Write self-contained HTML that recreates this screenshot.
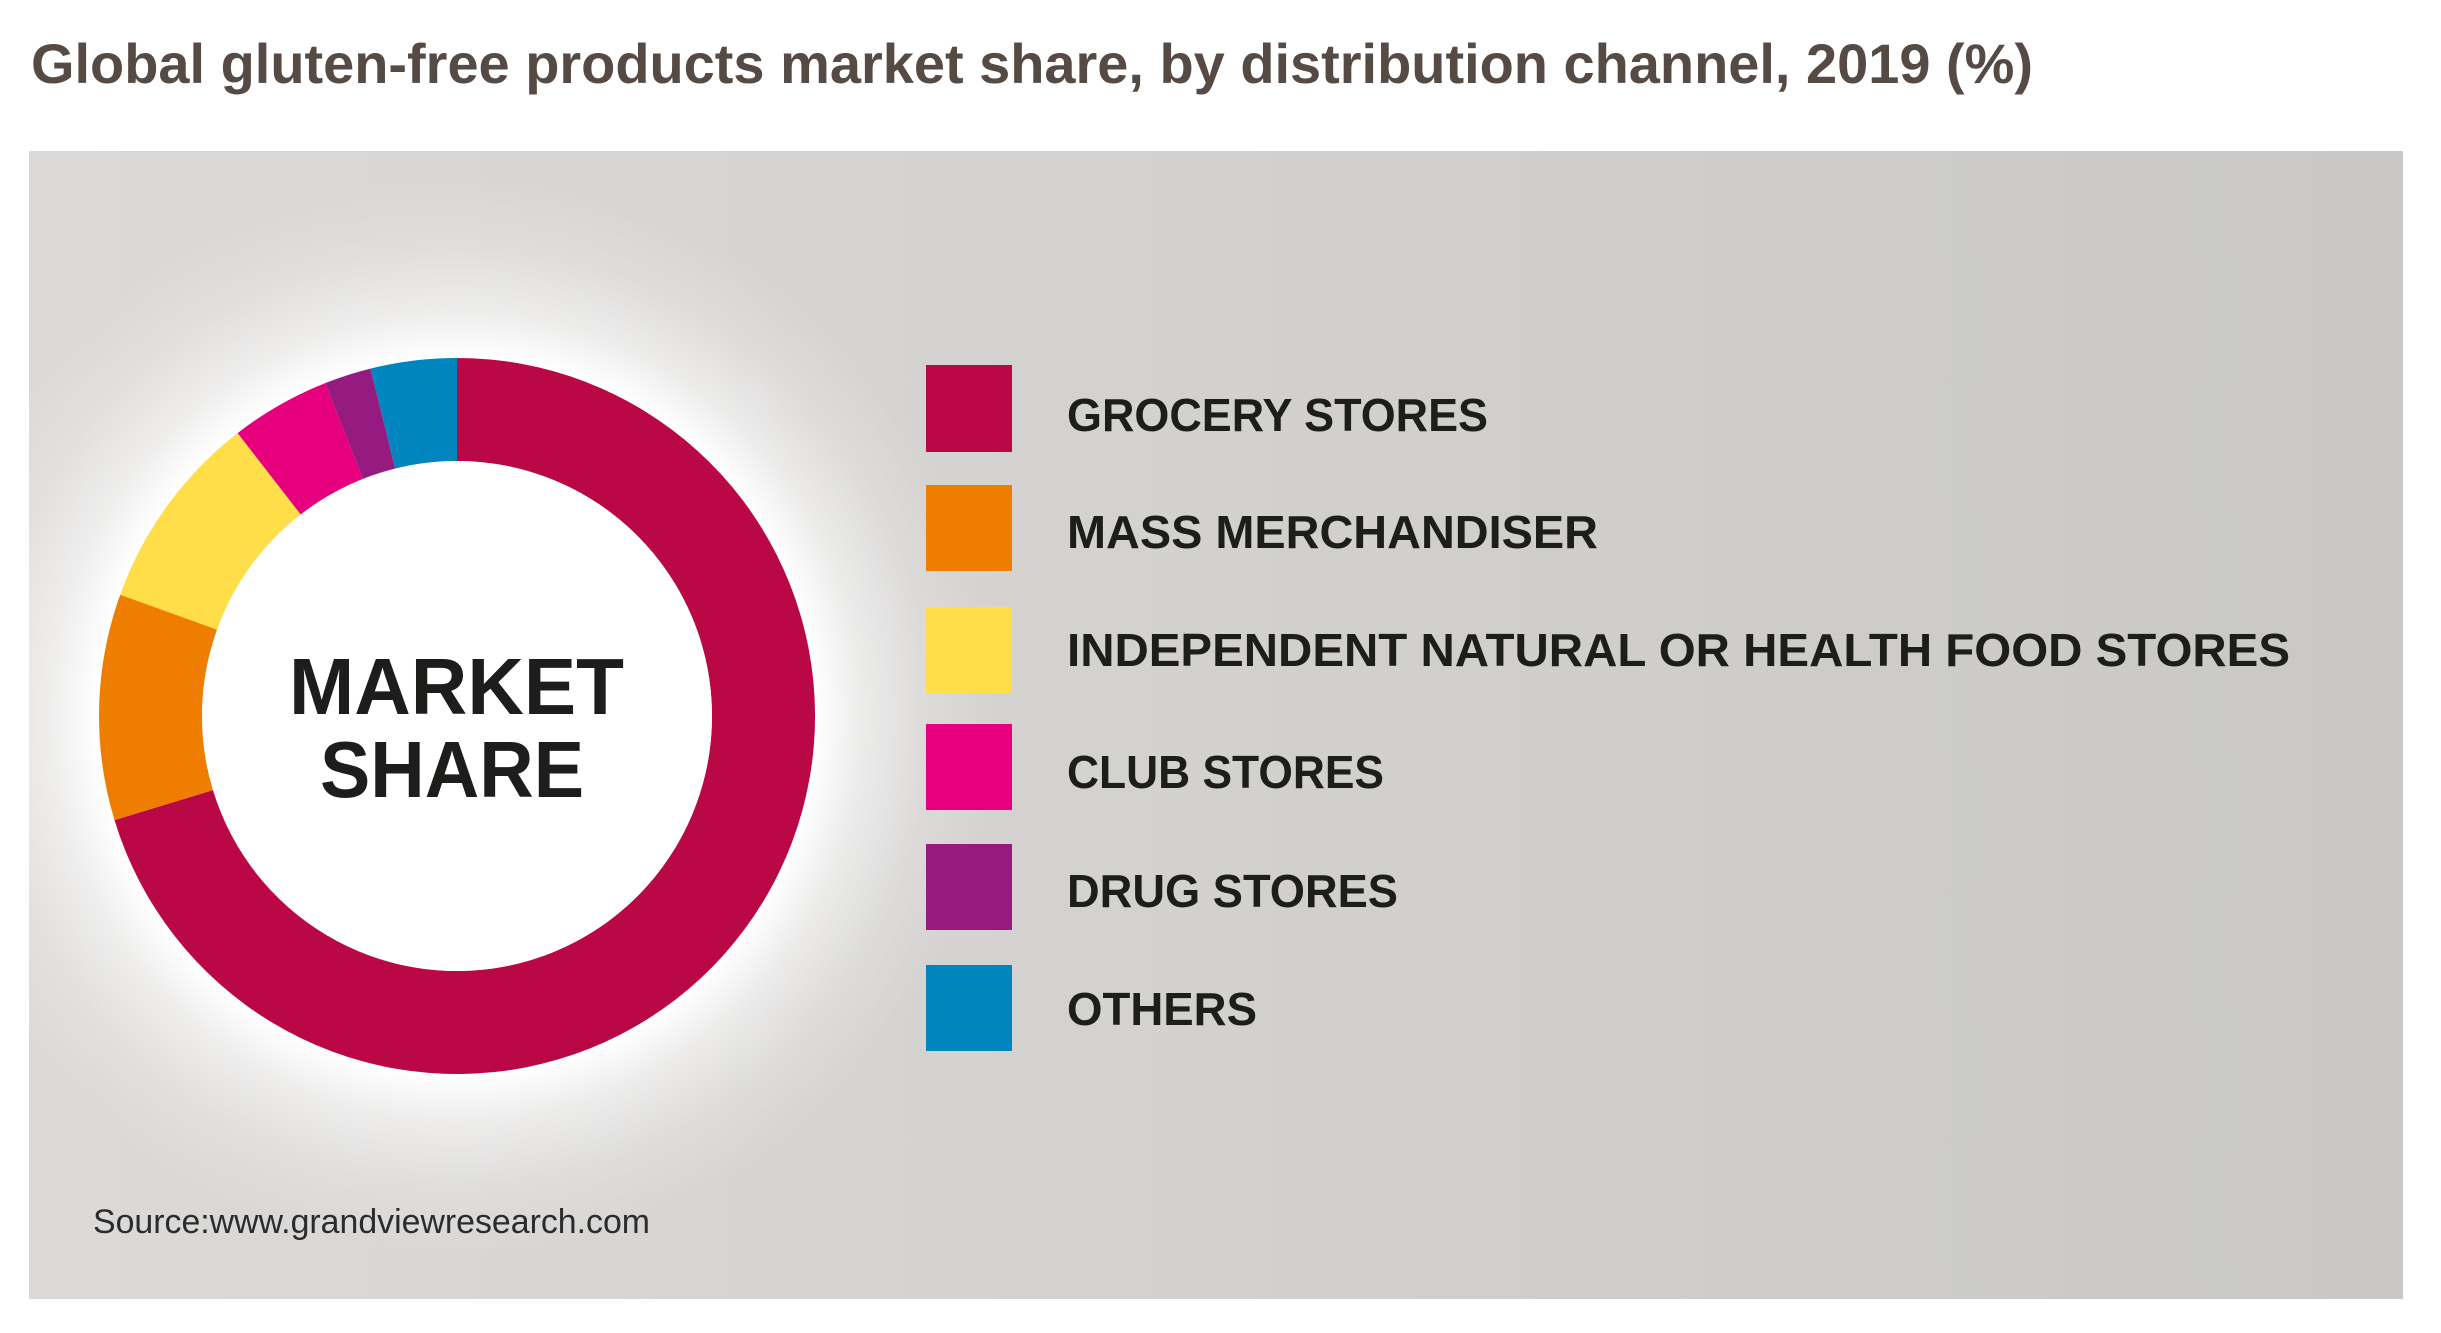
<!DOCTYPE html>
<html>
<head>
<meta charset="utf-8">
<style>
  html, body { margin: 0; padding: 0; background: #ffffff; }
  body { width: 2441px; height: 1333px; overflow: hidden; }
  svg { display: block; }
  text { font-family: "Liberation Sans", Arial, sans-serif; }
</style>
</head>
<body>
<svg width="2441" height="1333" viewBox="0 0 2441 1333" xmlns="http://www.w3.org/2000/svg">
  <defs>
    <linearGradient id="panelGrad" x1="0" y1="0" x2="1" y2="0">
      <stop offset="0" stop-color="#dcdad8"/>
      <stop offset="1" stop-color="#c9c8c6"/>
    </linearGradient>
    <radialGradient id="glow" cx="457" cy="716" r="540" gradientUnits="userSpaceOnUse">
      <stop offset="0" stop-color="#ffffff" stop-opacity="1"/>
      <stop offset="0.665" stop-color="#ffffff" stop-opacity="1"/>
      <stop offset="0.75" stop-color="#ffffff" stop-opacity="0.55"/>
      <stop offset="0.87" stop-color="#ffffff" stop-opacity="0.18"/>
      <stop offset="1" stop-color="#ffffff" stop-opacity="0"/>
    </radialGradient>
    <clipPath id="panelClip">
      <rect x="29" y="151" width="2374" height="1148"/>
    </clipPath>
  </defs>

  <!-- Title -->
  <text x="31" y="83" font-size="56" font-weight="bold" fill="#554a44" textLength="2002" lengthAdjust="spacingAndGlyphs">Global gluten-free products market share, by distribution channel, 2019 (%)</text>

  <!-- Panel -->
  <rect x="29" y="151" width="2374" height="1148" fill="url(#panelGrad)"/>

  <!-- Glow -->
  <g clip-path="url(#panelClip)">
    <circle cx="457" cy="716" r="540" fill="url(#glow)"/>
  </g>

  <!-- Donut -->
  <path d="M457,358 A358,358 0 1 1 114.5,820.1 L213,790.1 A255,255 0 1 0 457,461 Z" fill="#b90845"/>
  <path d="M114.5,820.1 A358,358 0 0 1 120.2,594.7 L217.1,629.6 A255,255 0 0 0 213,790.1 Z" fill="#ef7d00"/>
  <path d="M120.2,594.7 A358,358 0 0 1 237.6,433.1 L300.7,514.5 A255,255 0 0 0 217.1,629.6 Z" fill="#ffde4a"/>
  <path d="M237.6,433.1 A358,358 0 0 1 325.2,383.1 L363.1,478.9 A255,255 0 0 0 300.7,514.5 Z" fill="#e6007e"/>
  <path d="M325.2,383.1 A358,358 0 0 1 370.4,368.6 L395.3,468.6 A255,255 0 0 0 363.1,478.9 Z" fill="#951b81"/>
  <path d="M370.4,368.6 A358,358 0 0 1 457,358 L457,461 A255,255 0 0 0 395.3,468.6 Z" fill="#0085be"/>
  <circle cx="457" cy="716" r="255" fill="#ffffff"/>

  <!-- Center label -->
  <text x="289" y="714" font-size="80" font-weight="bold" fill="#1d1d1b" textLength="335" lengthAdjust="spacingAndGlyphs">MARKET</text>
  <text x="320" y="797" font-size="80" font-weight="bold" fill="#1d1d1b" textLength="264" lengthAdjust="spacingAndGlyphs">SHARE</text>

  <!-- Legend -->
  <rect x="926" y="365" width="86" height="87" fill="#b90845"/>
  <rect x="926" y="485" width="86" height="86" fill="#ef7d00"/>
  <rect x="926" y="607" width="86" height="86" fill="#ffde4a"/>
  <rect x="926" y="724" width="86" height="86" fill="#e6007e"/>
  <rect x="926" y="844" width="86" height="86" fill="#951b81"/>
  <rect x="926" y="965" width="86" height="86" fill="#0085be"/>

  <g font-size="46" font-weight="bold" fill="#1d1d1b">
    <text x="1067" y="431" textLength="421" lengthAdjust="spacingAndGlyphs">GROCERY STORES</text>
    <text x="1067" y="548" textLength="531" lengthAdjust="spacingAndGlyphs">MASS MERCHANDISER</text>
    <text x="1067" y="666" textLength="1223" lengthAdjust="spacingAndGlyphs">INDEPENDENT NATURAL OR HEALTH FOOD STORES</text>
    <text x="1067" y="788" textLength="317" lengthAdjust="spacingAndGlyphs">CLUB STORES</text>
    <text x="1067" y="907" textLength="331" lengthAdjust="spacingAndGlyphs">DRUG STORES</text>
    <text x="1067" y="1025" textLength="190" lengthAdjust="spacingAndGlyphs">OTHERS</text>
  </g>

  <!-- Source -->
  <text x="93" y="1233" font-size="34" fill="#2b2b2b" textLength="557" lengthAdjust="spacingAndGlyphs">Source:www.grandviewresearch.com</text>
</svg>
</body>
</html>
